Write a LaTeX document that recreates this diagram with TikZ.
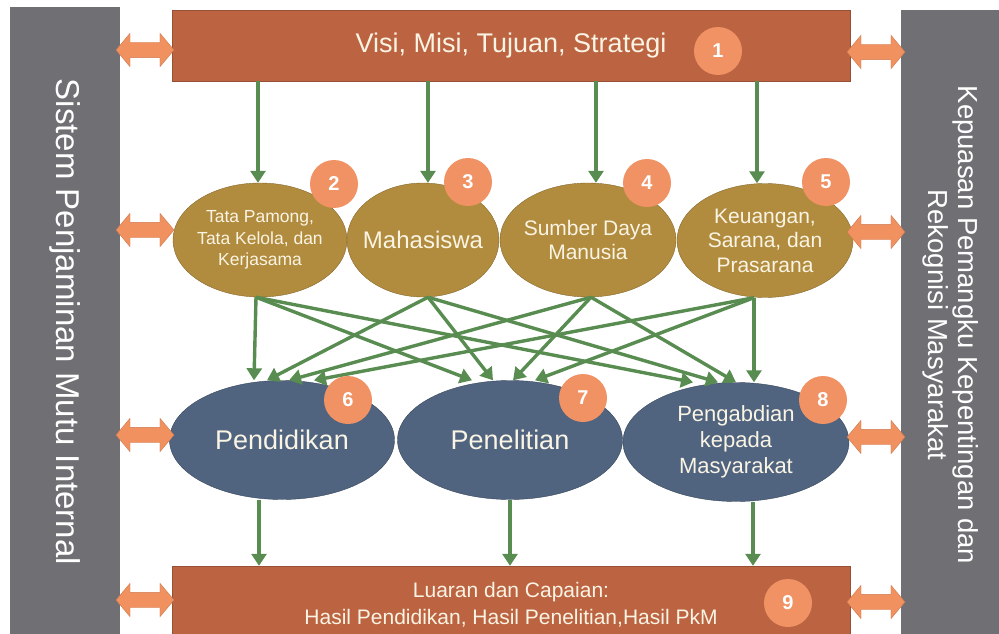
\documentclass[tikz,border=0pt]{standalone}
\usepackage{fontspec}
\setmainfont{Liberation Sans}
\usetikzlibrary{shapes.geometric,shapes.arrows,arrows.meta}

\definecolor{barbrown}{RGB}{188,100,66}
\definecolor{ovalgold}{RGB}{178,140,62}
\definecolor{ovalblue}{RGB}{80,100,128}
\definecolor{sidegray}{RGB}{112,112,116}
\definecolor{flowgreen}{RGB}{88,140,80}
\definecolor{ballorange}{RGB}{240,146,100}
\definecolor{arroworange}{RGB}{240,145,95}
\definecolor{cream}{RGB}{250,244,228}

\tikzset{
  barbox/.style={rectangle, fill=barbrown, draw=barbrown!80!black, text=cream, inner sep=0pt},
  sidebox/.style={rectangle, fill=sidegray, text=white, inner sep=0pt, rotate=-90, align=center},
  goldoval/.style={ellipse, fill=ovalgold, draw=ovalgold!75!black, text=cream, inner sep=0pt, inner xsep=-12pt, align=center, minimum height=114pt},
  blueoval/.style={ellipse, fill=ovalblue, draw=ovalblue!70!black, text=cream, inner sep=0pt, align=center, minimum width=225pt, minimum height=119pt},
  numball/.style={circle, fill=ballorange, text=white, inner sep=0pt, minimum size=48pt, font=\fontsize{20}{20}\selectfont\bfseries},
  flow/.style={draw=flowgreen, line width=3.4pt, -{Triangle[length=12pt,width=15pt]}},
  twoway/.style={double arrow, fill=arroworange, draw=arroworange!85!black, inner xsep=0pt, inner ysep=7.5pt, minimum height=58pt, double arrow head extend=9pt, double arrow tip angle=100}
}

\begin{document}
\begin{tikzpicture}[x=1pt,y=-1pt]
\useasboundingbox (0,0) rectangle (999,634);

% side panels
\node[sidebox, minimum width=630pt, minimum height=110pt, font=\fontsize{33}{36}\selectfont] (spmi) at (65,322) {Sistem Penjaminan Mutu Internal};
\node[sidebox, minimum width=630pt, minimum height=100pt, font=\fontsize{27.5}{30}\selectfont] (kepuasan) at (951,325) {Kepuasan Pemangku Kepentingan dan\\Rekognisi Masyarakat};

% top and bottom bars
\node[barbox, minimum width=678pt, minimum height=71pt, font=\fontsize{27}{30}\selectfont] (visi) at (511,45.5) {Visi, Misi, Tujuan, Strategi};
\node[barbox, minimum width=678pt, minimum height=78pt, font=\fontsize{21}{27}\selectfont, align=center] (luaran) at (511,605) {Luaran dan Capaian:\\Hasil Pendidikan, Hasil Penelitian,Hasil PkM};

% resources
\node[goldoval, minimum width=174pt, font=\fontsize{17.5}{21.5}\selectfont] (e2) at (260,240) {Tata Pamong,\\Tata Kelola, dan\\Kerjasama};
\node[goldoval, minimum width=152pt, font=\fontsize{24}{28}\selectfont] (e3) at (423,240) {Mahasiswa};
\node[goldoval, minimum width=176pt, font=\fontsize{21}{24}\selectfont] (e4) at (588,240) {Sumber Daya\\Manusia};
\node[goldoval, minimum width=176pt, font=\fontsize{21}{24.5}\selectfont] (e5) at (765,240.5) {Keuangan,\\Sarana, dan\\Prasarana};

% tridharma
\node[blueoval, font=\fontsize{27}{30}\selectfont] (e6) at (282,440) {Pendidikan};
\node[blueoval, font=\fontsize{27}{30}\selectfont] (e7) at (510,440) {Penelitian};
\node[blueoval, minimum width=226pt, font=\fontsize{22}{26}\selectfont] (e8) at (736,442) {Pengabdian\\kepada\\Masyarakat};

% arrows
\foreach \e/\dx in {e2/-2,e3/5,e4/8,e5/-8}{
  \coordinate (t\e) at ([xshift=\dx pt]\e.north);
  \draw[flow] (t\e |- visi.south) -- (t\e);
}
\foreach \s/\a/\t/\b in {e2/-4/e6/-28, e2/-4/e7/-38, e2/-4/e8/-43,
                         e3/5/e6/-15,  e3/5/e7/-17,  e3/5/e8/-18,
                         e4/3/e6/7,    e4/3/e7/3,    e4/3/e8/0,
                         e5/-11/e6/32, e5/-11/e7/25, e5/-11/e8/18}
  \draw[flow] ([xshift=\a pt]\s.south) -- ([xshift=\b pt]\t.north);
\foreach \e/\dx in {e6/-23,e7/0,e8/17}{
  \coordinate (b\e) at ([xshift=\dx pt]\e.south);
  \draw[flow] (b\e) -- (b\e |- luaran.north);
}

% numbers
\node[numball] (n1) at (718,51) {1};
\node[numball] (n2) at (334,184) {2};
\node[numball] (n3) at (468,182) {3};
\node[numball] (n4) at (647,183) {4};
\node[numball] (n5) at (826,182) {5};
\node[numball] (n6) at (348,400) {6};
\node[numball] (n7) at (583,398) {7};
\node[numball] (n8) at (823,400) {8};
\node[numball] (n9) at (788,603) {9};

% two-way links to the side panels
\foreach \y [count=\i] in {50,230,435,600}
  \node[twoway] (la\i) at (145,\y) {};
\foreach \y [count=\i] in {52,232,437,602}
  \node[twoway] (ra\i) at (876,\y) {};
\end{tikzpicture}
\end{document}
